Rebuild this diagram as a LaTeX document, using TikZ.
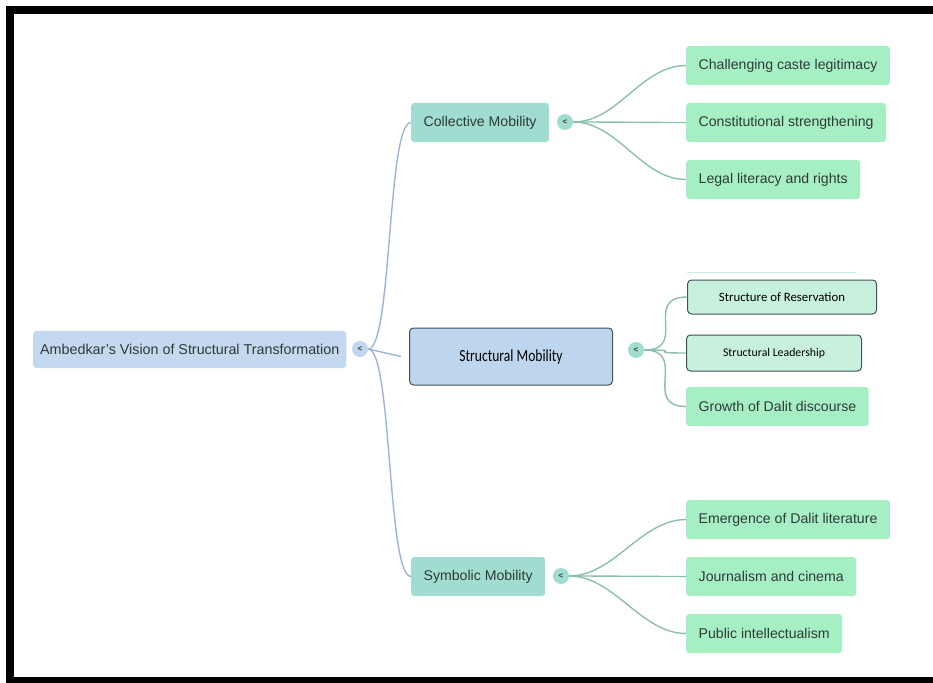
\documentclass[tikz,border=0pt]{standalone}
\usepackage{fontspec}
\setmainfont{Liberation Sans}
\newfontfamily\calfont{Carlito}
\newfontfamily\calnarrow{Carlito}[FakeStretch=0.8]
\usepackage{xcolor}
\usetikzlibrary{positioning,calc}

\definecolor{rootblue}{HTML}{C4D9F0}
\definecolor{midblue}{HTML}{BDD6EE}
\definecolor{tealbox}{HTML}{A0DCCF}
\definecolor{leafgreen}{HTML}{A6EFC5}
\definecolor{paleleaf}{HTML}{C8F1DD}
\definecolor{edgeblue}{HTML}{9DB3DA}
\definecolor{edgeteal}{HTML}{8DBDB0}
\definecolor{boxline}{HTML}{44505C}
\definecolor{txt}{HTML}{2F3A37}

\begin{document}
\begin{tikzpicture}[x=1pt,y=-1pt,
    box/.style={rounded corners=3pt, anchor=west, inner xsep=12.5pt,
        minimum height=39pt, text=txt, font=\fontsize{14.1}{16}\selectfont},
    rootbox/.style={box, fill=rootblue, minimum height=37pt, inner xsep=7pt},
    midbox/.style={box, fill=tealbox},
    leaf/.style={box, fill=leafgreen},
    calbox/.style={rounded corners=4pt, anchor=west, draw=boxline, line width=1pt,
        text=black, font=\calfont},
    knob/.style={circle, inner sep=0pt, minimum size=16pt, text=txt,
        font=\fontsize{8}{8}\selectfont\bfseries},
    edgeb/.style={draw=edgeblue, line width=1.4pt},
    edget/.style={draw=edgeteal, line width=1.4pt}]
    \useasboundingbox (0,0) rectangle (933,682);

    % Root
    \node[rootbox, font=\fontsize{14.3}{16}\selectfont] (root) at (33,349.5) {Ambedkar's Vision of Structural Transformation};
    \node[knob, fill=rootblue!90!edgeblue] (rk) at (360,349) {<};

    % Branches
    \node[midbox] (coll) at (411,122.5) {Collective Mobility};
    \node[calbox, fill=midblue, minimum width=203pt, minimum height=57pt,
        font=\calnarrow\fontsize{17}{19}\selectfont] (struct) at (409,356.5) {Structural Mobility};
    \node[midbox] (symb) at (411,576.5) {Symbolic Mobility};

    \node[knob, fill=tealbox] (ck) at (565,122) {<};
    \node[knob, fill=tealbox] (sk) at (636,350) {<};
    \node[knob, fill=tealbox] (yk) at (561,576) {<};

    % Collective leaves
    \node[leaf] (c1) at (686,65.5) {Challenging caste legitimacy};
    \node[leaf] (c2) at (686,122.5) {Constitutional strengthening};
    \node[leaf] (c3) at (686,179.5) {Legal literacy and rights};

    % Structural leaves
    \node[calbox, fill=paleleaf, minimum width=189pt, minimum height=34pt,
        font=\calfont\fontsize{12.8}{14}\selectfont] (s1) at (687,297) {Structure of Reservation};
    \node[calbox, fill=paleleaf, minimum width=175pt, minimum height=36pt,
        font=\calfont\fontsize{11.8}{13}\selectfont] (s2) at (686,353) {Structural Leadership};
    \node[leaf] (s3) at (686,406.5) {Growth of Dalit discourse};

    % Symbolic leaves
    \node[leaf] (y1) at (686,519.5) {Emergence of Dalit literature};
    \node[leaf] (y2) at (686,576.5) {Journalism and cinema};
    \node[leaf] (y3) at (686,633.5) {Public intellectualism};

    % faint rule above the first structural leaf
    \draw[paleleaf, line width=1pt] ([yshift=7pt]s1.north west) -- ([yshift=7pt,xshift=-21pt]s1.north east);

    % root connectors
    \draw[edgeb] (rk.east) .. controls +(24,0) and +(-24,0) .. (coll.west);
    \draw[edgeb] (rk.east) -- ([xshift=-8pt]struct.west);
    \draw[edgeb] (rk.east) .. controls +(24,0) and +(-24,0) .. (symb.west);

    % knob to leaves
    \foreach \k/\l in {ck/c1, ck/c2, ck/c3, sk/s1, sk/s2, sk/s3, yk/y1, yk/y2, yk/y3}
        \draw[edget] (\k.east) .. controls +(45,0) and +(-45,0) .. (\l.west);

    % frame
    \draw[line width=8pt] (945,10) -- (10,10) -- (10,681) -- (945,681);
\end{tikzpicture}
\end{document}
